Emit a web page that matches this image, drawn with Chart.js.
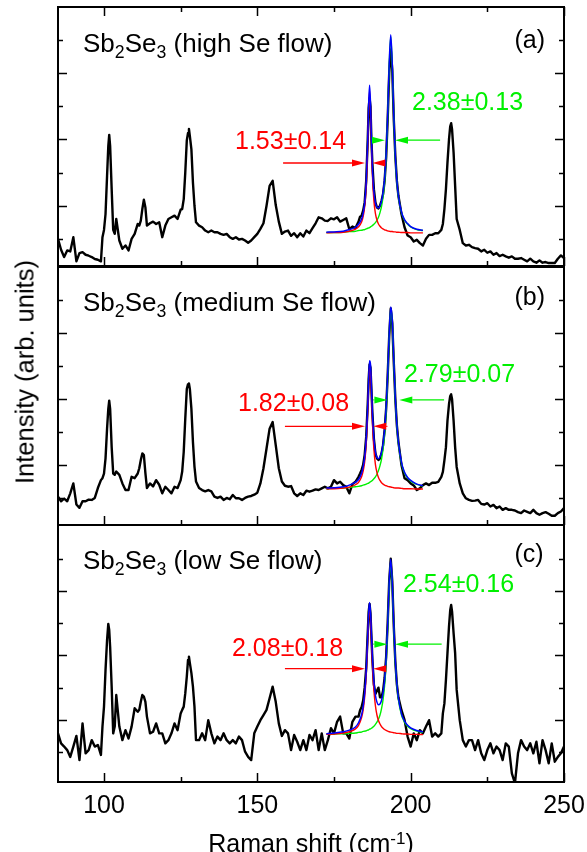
<!DOCTYPE html>
<html>
<head>
<meta charset="utf-8">
<script src="https://cdn.jsdelivr.net/npm/chart.js@4.4.1/dist/chart.umd.min.js"></script>
<style>
  html, body { margin: 0; padding: 0; background: #fff; overflow: hidden; }
  #wrap { position: relative; width: 587px; height: 852px; overflow: hidden; }
  canvas { position: absolute; left: 0; top: 0; pointer-events: none; }
  .t { position: absolute; font-family: "Liberation Sans", Arial, sans-serif; font-size: 25px; line-height: 25px; white-space: nowrap; color: #000; }
  .ttl { font-size: 26px; line-height: 26px; }
  .ttl sub { font-size: 0.68em; vertical-align: -0.33em; line-height: 0; }
  .ylab { font-size: 25.5px; }
  .red { color: #ff0000; }
  .grn { color: #00f000; }
  sup { font-size: 0.68em; vertical-align: 0.5em; line-height: 0; }
</style>
</head>
<body>
<div id="wrap">
  <canvas id="cA" width="587" height="852"></canvas>
  <canvas id="cB" width="587" height="852"></canvas>
  <canvas id="cC" width="587" height="852"></canvas>

  <div class="t ttl" style="left:83px; top:29.7px;">Sb<sub>2</sub>Se<sub>3</sub> (high Se flow)</div>
  <div class="t ttl" style="left:83px; top:288.7px;">Sb<sub>2</sub>Se<sub>3</sub> (medium Se flow)</div>
  <div class="t ttl" style="left:83px; top:547px;">Sb<sub>2</sub>Se<sub>3</sub> (low Se flow)</div>

  <div class="t" style="left:514.5px; top:26.5px;">(a)</div>
  <div class="t" style="left:514.5px; top:283.5px;">(b)</div>
  <div class="t" style="left:514.5px; top:540.5px;">(c)</div>

  <div class="t red" style="left:235px; top:127.8px;">1.53±0.14</div>
  <div class="t grn" style="left:412px; top:89.3px;">2.38±0.13</div>
  <div class="t red" style="left:238px; top:389.5px;">1.82±0.08</div>
  <div class="t grn" style="left:404px; top:360.8px;">2.79±0.07</div>
  <div class="t red" style="left:232px; top:634.8px;">2.08±0.18</div>
  <div class="t grn" style="left:403px; top:570.8px;">2.54±0.16</div>

  <div class="t ylab" style="left:25px; top:372px; transform: translate(-50%,-50%) rotate(-90deg);">Intensity (arb. units)</div>
  <div class="t" style="left:311px; top:830.5px; transform: translateX(-50%);">Raman shift (cm<sup>-1</sup>)</div>
</div>

<script>
// ---------------- data ----------------
const ramanShift = [85,86,87,88,89,90,91,92,93,94,95,96,97,98,99,
  99.5,100,100.5,101,101.4,101.7,102,102.5,103,103.5,104,
  105,106,107,108,109,110,111,
  111.5,112,112.5,113,113.5,114,
  115,116,117,118,119,120,121,122,123,124,125,
  125.5,126,126.5,127,127.4,127.7,128,128.5,129,129.5,130,
  131,132,133,134,135,136,137,138,139,140,141,142,143,144,145,146,147,148,149,150,
  151,152,153,154,155,156,157,158,159,160,161,162,163,164,165,166,167,168,169,170,
  171,172,173,174,175,176,177,178,179,180,181,182,183,
  183.5,184,184.5,185,185.5,186,186.3,186.6,186.9,187.2,187.5,188,188.5,189,189.5,
  190,190.5,191,191.5,192,192.5,193,193.5,194,194.5,195,195.5,196,
  197,198,199,200,201,202,203,204,205,206,207,208,209,210,
  210.5,211,211.5,212,212.5,212.9,213.2,213.5,214,214.5,215,
  216,217,218,219,220,221,222,223,224,225,226,227,228,229,230,231,232,233,234,235,
  236,237,238,239,240,241,242,243,244,245,246,247,248,249,250];

const highSe = [0.00,-0.33,-0.55,-0.35,-0.38,0.05,-0.68,-0.43,-0.40,-0.48,-0.51,-0.55,-0.61,-0.63,-0.68,
  0.05,0.27,0.75,1.90,2.80,3.14,2.80,1.50,0.27,0.15,0.60,
  -0.05,-0.30,-0.20,-0.35,0.00,0.15,0.45,
  0.40,0.55,0.90,1.18,0.95,0.40,
  0.47,0.52,0.45,0.50,0.05,0.40,0.60,0.65,0.70,0.60,0.88,
  0.90,1.20,2.00,2.97,3.20,3.32,3.10,2.70,1.70,1.00,0.50,
  0.40,0.35,0.25,0.20,0.25,0.20,0.20,0.15,0.12,0.15,0.05,0.00,0.05,-0.02,0.00,-0.05,-0.12,-0.05,0.05,0.15,
  0.30,0.47,1.00,1.60,1.75,1.02,0.52,0.15,0.22,0.25,0.09,0.17,0.05,0.17,0.07,0.25,0.17,0.32,0.47,0.65,
  0.62,0.55,0.54,0.62,0.59,0.65,0.52,0.57,0.62,0.29,0.37,0.33,0.52,
  0.67,0.70,0.85,1.10,1.75,3.00,3.95,4.25,4.00,3.00,2.30,1.50,1.10,0.95,0.92,
  1.00,1.15,1.35,1.75,2.45,3.60,5.00,5.72,5.10,3.60,2.50,1.75,1.30,
  0.75,0.35,0.10,0.05,-0.08,-0.03,-0.13,-0.20,0.00,0.12,0.12,0.17,0.17,0.27,
  0.45,0.90,1.50,2.30,3.00,3.40,3.49,3.30,2.60,1.60,0.60,
  0.27,-0.13,-0.20,-0.18,-0.25,-0.28,-0.30,-0.38,-0.33,-0.42,-0.38,-0.48,-0.43,-0.52,-0.48,-0.53,-0.57,-0.53,-0.60,-0.60,
  -0.58,-0.63,-0.68,-0.60,-0.68,-0.72,-0.65,-0.72,-0.70,-0.73,-0.73,-0.73,-0.60,-0.50,-0.58];

const mediumSe = [0.04,-0.10,-0.02,-0.10,0.14,0.44,-0.20,-0.30,-0.10,-0.10,-0.05,-0.06,0.00,0.30,0.54,
  0.60,0.74,1.20,2.10,2.70,2.95,2.70,1.54,0.74,0.70,0.80,
  0.70,0.44,0.24,0.24,0.64,0.60,0.74,
  0.90,1.15,1.35,1.30,0.75,0.30,
  0.44,0.35,0.54,0.40,0.14,0.34,0.24,0.14,0.34,0.30,0.54,
  0.80,1.40,2.40,3.30,3.45,3.47,3.30,2.70,1.70,0.95,0.50,
  0.30,0.24,0.20,0.24,0.20,0.04,0.00,0.04,-0.06,0.00,-0.04,0.09,-0.01,-0.01,-0.06,0.00,0.04,0.06,0.10,0.16,
  0.44,0.90,1.50,2.10,2.30,1.60,0.90,0.50,0.37,0.34,0.36,0.14,0.06,0.14,0.09,0.22,0.19,0.22,0.26,0.24,
  0.29,0.34,0.29,0.34,0.54,0.44,0.49,0.39,0.34,0.14,0.42,0.49,0.64,
  0.74,0.85,1.00,1.30,1.85,2.85,3.60,4.05,3.95,3.30,2.60,1.80,1.35,1.20,1.15,
  1.20,1.35,1.60,2.05,2.70,3.70,4.90,5.74,5.30,4.10,3.00,2.20,1.70,
  1.00,0.60,0.54,0.44,0.38,0.24,0.29,0.39,0.44,0.39,0.46,0.46,0.49,0.64,
  0.79,1.14,1.54,2.34,2.84,3.09,3.14,2.99,2.34,1.54,0.94,
  0.44,0.14,-0.01,-0.06,-0.09,-0.08,-0.06,-0.18,-0.20,-0.16,-0.26,-0.21,-0.31,-0.26,-0.36,-0.31,-0.36,-0.36,-0.38,-0.43,
  -0.46,-0.38,-0.42,-0.46,-0.36,-0.46,-0.51,-0.46,-0.43,-0.48,-0.54,-0.54,-0.46,-0.41,-0.31];

const lowSe = [0.58,0.27,0.17,0.06,-0.15,0.17,0.50,-0.25,0.89,-0.04,0.06,0.37,0.17,0.22,-0.09,
  0.79,1.41,2.55,3.48,3.98,3.79,3.27,2.03,0.58,0.79,1.77,
  0.79,0.37,0.68,0.42,0.79,1.36,1.25,
  1.31,1.56,1.77,1.72,1.56,1.10,
  0.58,0.63,0.89,0.58,0.58,0.27,0.37,0.58,0.89,0.68,1.20,
  1.31,1.41,1.82,2.34,2.86,2.96,2.76,2.45,2.03,1.41,0.37,
  0.37,0.58,0.37,0.99,0.58,0.27,0.48,0.37,0.58,0.37,0.27,0.37,0.27,0.48,0.37,0.01,-0.15,-0.25,0.58,0.79,
  0.99,1.15,1.31,1.67,2.03,1.56,0.89,0.50,0.68,0.58,0.06,0.53,0.32,0.06,0.37,0.06,0.53,0.37,0.68,0.06,
  0.58,0.06,0.37,0.74,0.58,0.94,1.10,0.58,0.58,0.42,0.94,1.10,1.10,
  1.30,1.40,1.60,2.00,2.60,3.70,4.35,4.60,4.30,3.60,2.90,2.10,1.80,1.90,2.00,
  1.70,1.70,1.90,2.30,2.95,4.00,5.30,6.00,5.30,3.90,2.80,2.10,1.70,
  1.30,1.00,0.48,0.17,0.58,0.37,0.68,0.58,0.79,0.99,0.48,0.58,0.48,0.58,
  1.20,1.51,2.24,3.07,3.90,4.41,4.57,4.36,3.69,3.07,1.93,
  0.99,0.37,0.17,0.37,0.37,0.06,0.37,-0.04,-0.25,0.06,0.27,-0.04,0.17,0.06,-0.25,0.27,0.17,-0.66,-0.97,-0.04,
  0.37,0.17,0.06,0.27,-0.04,0.32,-0.35,0.37,0.06,-0.35,0.27,-0.30,-0.15,-0.04,0.17];

// Lorentzian fit curves (values read from the red / green / blue traces)
const fitShift = [172.5,175,178,180,182,183,184,184.5,185,185.5,186,186.3,186.6,186.9,187.2,187.5,188,188.5,189,189.5,
  190,190.5,191,191.5,192,192.5,193,193.5,194,194.5,195,195.5,196,197,198,199,200,202,204];

const fitRedA   = [0.18,0.19,0.20,0.23,0.29,0.36,0.51,0.67,0.97,1.57,2.83,3.90,4.47,3.90,2.83,1.97,1.16,0.77,0.57,0.45,
  0.38,0.33,0.30,0.27,0.26,0.24,0.23,0.22,0.22,0.21,0.21,0.20,0.20,0.19,0.19,0.19,0.18,0.18,0.18];
const fitGreenA = [0.19,0.19,0.20,0.22,0.23,0.25,0.26,0.27,0.28,0.30,0.32,0.33,0.34,0.36,0.38,0.40,0.44,0.49,0.56,0.65,
  0.79,0.98,1.27,1.72,2.46,3.65,5.22,6.11,5.22,3.65,2.46,1.72,1.27,0.79,0.56,0.44,0.36,0.28,0.25];
const fitSumA   = [0.20,0.21,0.23,0.28,0.35,0.44,0.60,0.77,1.08,1.70,2.98,4.06,4.64,4.09,3.04,2.20,1.43,1.09,0.96,0.93,
  1.00,1.14,1.40,1.82,2.55,3.72,5.28,6.16,5.27,3.69,2.50,1.75,1.30,0.81,0.58,0.46,0.37,0.29,0.26];

const fitRedB   = [0.28,0.28,0.30,0.33,0.40,0.47,0.64,0.81,1.09,1.63,2.61,3.39,3.95,3.82,3.13,2.37,1.49,1.02,0.77,0.62,
  0.53,0.46,0.42,0.39,0.37,0.35,0.34,0.33,0.32,0.31,0.30,0.30,0.30,0.29,0.28,0.28,0.28,0.27,0.27];
const fitGreenB = [0.28,0.29,0.30,0.32,0.34,0.35,0.37,0.39,0.40,0.42,0.44,0.45,0.47,0.49,0.51,0.53,0.58,0.64,0.72,0.83,
  0.98,1.18,1.49,1.94,2.63,3.64,4.89,5.72,5.33,4.14,2.99,2.18,1.65,1.05,0.76,0.60,0.51,0.41,0.36];
const fitSumB   = [0.30,0.31,0.34,0.39,0.48,0.56,0.75,0.94,1.23,1.79,2.79,3.58,4.16,4.05,3.38,2.64,1.81,1.40,1.23,1.19,
  1.25,1.38,1.65,2.07,2.74,3.73,4.97,5.79,5.39,4.19,3.03,2.22,1.69,1.08,0.78,0.62,0.53,0.42,0.37];

const fitRedC   = [0.55,0.56,0.59,0.63,0.72,0.83,1.07,1.30,1.70,2.38,3.48,4.16,4.46,4.16,3.48,2.78,1.93,1.44,1.15,0.98,
  0.87,0.79,0.74,0.70,0.67,0.65,0.63,0.62,0.61,0.60,0.59,0.58,0.58,0.57,0.56,0.56,0.55,0.55,0.54];
const fitGreenC = [0.55,0.56,0.57,0.58,0.59,0.61,0.62,0.64,0.65,0.66,0.68,0.69,0.71,0.72,0.74,0.76,0.80,0.86,0.93,1.02,
  1.15,1.35,1.63,2.07,2.77,3.84,5.18,5.90,5.18,3.84,2.77,2.07,1.63,1.15,0.93,0.80,0.73,0.65,0.61];
const fitSumC   = [0.57,0.59,0.63,0.68,0.78,0.91,1.16,1.41,1.82,2.51,3.63,4.32,4.64,4.35,3.69,3.01,2.20,1.77,1.55,1.47,
  1.49,1.61,1.84,2.24,2.91,3.96,5.28,5.99,5.26,3.91,2.83,2.12,1.68,1.19,0.96,0.83,0.75,0.67,0.62];

// x tick labels of the shared Raman-shift axis
const xTickLabels = [100, 150, 200, 250];

// FWHM arrow annotations (data coordinates: [tail, tip] in cm-1, level in intensity units)
const arrowsA = { redLevel: 2.29, greenLevel: 2.98,
  red: [[158.4, 185.1], [191.6, 187.5]], green: [[187.5, 191.6], [209.6, 194.9]] };
const arrowsB = { redLevel: 2.17, greenLevel: 2.97,
  red: [[159.0, 185.1], [192.4, 187.8]], green: [[187.8, 192.4], [210.9, 196.3]] };
const arrowsC = { redLevel: 2.59, greenLevel: 3.35,
  red: [[159.0, 185.1], [192.0, 187.8]], green: [[187.8, 192.4], [210.1, 194.9]] };

// ---------------- drawing ----------------
const pts = (xs, ys) => xs.map((x, i) => ({ x, y: ys[i] }));
const RED = '#ff0000', GREEN = '#00f000', BLUE = '#0000ff';

const framePlugin = {
  id: 'frame',
  afterDatasetsDraw(chart, args, o) {
    const { ctx, chartArea: a, scales: { x, y } } = chart;
    ctx.save();
    ctx.strokeStyle = '#000';
    ctx.lineCap = 'butt';
    ctx.lineWidth = 1.5;
    ctx.beginPath();
    for (let v = 100; v <= 250; v += 25) {
      const px = Math.round(x.getPixelForValue(v)) + 0.5;
      const len = (v % 50 === 0) ? 9 : 5;
      ctx.moveTo(px, a.bottom); ctx.lineTo(px, a.bottom - len);
      if (o.topTicks) { ctx.moveTo(px, a.top); ctx.lineTo(px, a.top + len); }
    }
    for (let v = Math.ceil(y.min); v <= Math.floor(y.max); v++) {
      const py = y.getPixelForValue(v);
      if (py < a.top + 3 || py > a.bottom - 3) continue;
      const len = (Math.abs(v) % 2 === 1) ? 9 : 5;
      const yy = Math.round(py) + 0.5;
      ctx.moveTo(a.left, yy); ctx.lineTo(a.left + len, yy);
      ctx.moveTo(a.right, yy); ctx.lineTo(a.right - len, yy);
    }
    ctx.stroke();
    ctx.lineWidth = 2;
    ctx.strokeRect(a.left, a.top, a.right - a.left, a.bottom - a.top);

    const drawArrow = (tail, tip, level, color) => {
      const py = y.getPixelForValue(level);
      const x0 = x.getPixelForValue(tail), x1 = x.getPixelForValue(tip);
      const dir = Math.sign(x1 - x0);
      const head = 13, hw = 3.5;
      ctx.strokeStyle = color; ctx.fillStyle = color; ctx.lineWidth = 1.3;
      if (Math.abs(x1 - x0) > head) {
        ctx.beginPath(); ctx.moveTo(x0, py); ctx.lineTo(x1 - dir * head, py); ctx.stroke();
      }
      ctx.beginPath();
      ctx.moveTo(x1, py);
      ctx.lineTo(x1 - dir * head, py - hw);
      ctx.lineTo(x1 - dir * head, py + hw);
      ctx.closePath(); ctx.fill();
    };
    const ar = o.arrows;
    ar.red.forEach(([t, p]) => drawArrow(t, p, ar.redLevel, RED));
    ar.green.forEach(([t, p]) => drawArrow(t, p, ar.greenLevel, GREEN));

    if (o.tickLabels) {
      ctx.fillStyle = '#000';
      ctx.font = '25px "Liberation Sans", Arial, sans-serif';
      ctx.textAlign = 'center';
      ctx.textBaseline = 'alphabetic';
      xTickLabels.forEach(v => ctx.fillText(String(v), x.getPixelForValue(v), a.bottom + 31));
    }
    ctx.restore();
  }
};

function makePanel(id, series, red, green, sum, area, yMin, yMax, extra) {
  const line = (data, color, w, smooth) => ({
    data, showLine: true, borderColor: color, backgroundColor: color, borderWidth: w,
    pointRadius: 0, fill: false, borderJoinStyle: 'round',
    cubicInterpolationMode: smooth ? 'monotone' : 'default', tension: 0
  });
  return new Chart(document.getElementById(id), {
    type: 'scatter',
    data: {
      datasets: [
        line(pts(fitShift, sum), BLUE, 1.5, true),
        line(pts(fitShift, red), RED, 1.4, true),
        line(pts(fitShift, green), GREEN, 1.4, true),
        line(pts(ramanShift, series), '#000', 2.4, false)
      ]
    },
    options: {
      responsive: false, animation: false, events: [],
      layout: { padding: { left: area.left, top: area.top, right: 587 - area.right, bottom: 852 - area.bottom } },
      scales: {
        x: { type: 'linear', display: false, min: 85, max: 250 },
        y: { type: 'linear', display: false, min: yMin, max: yMax }
      },
      plugins: { legend: { display: false }, tooltip: { enabled: false }, frame: extra }
    },
    plugins: [framePlugin]
  });
}

makePanel('cA', highSe, fitRedA, fitGreenA, fitSumA, { left: 58, right: 564, top: 7, bottom: 266 }, -0.82, 7.0,
  { topTicks: true, tickLabels: false, arrows: arrowsA });
makePanel('cB', mediumSe, fitRedB, fitGreenB, fitSumB, { left: 58, right: 564, top: 267, bottom: 525 }, -0.82, 7.0,
  { topTicks: false, tickLabels: false, arrows: arrowsB });
makePanel('cC', lowSe, fitRedC, fitGreenC, fitSumC, { left: 58, right: 564, top: 525, bottom: 782 }, -0.93, 7.05,
  { topTicks: false, tickLabels: true, arrows: arrowsC });
</script>
</body>
</html>
